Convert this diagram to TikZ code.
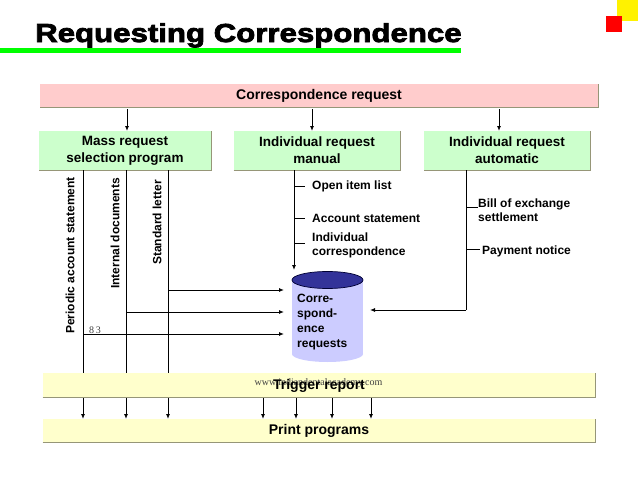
\documentclass[tikz,border=0pt]{standalone}
\usepackage{fontspec}
\setmainfont{Liberation Sans}
\newfontfamily\titlefont[FakeBold=3,FakeStretch=1.2]{Liberation Sans Bold}
\newfontfamily\wmfont{Liberation Serif}
\usetikzlibrary{arrows.meta}
\definecolor{pinkfill}{RGB}{255,204,204}
\definecolor{greenfill}{RGB}{204,255,204}
\definecolor{yellowfill}{RGB}{255,255,204}
\definecolor{cylbody}{RGB}{204,204,255}
\definecolor{cyltop}{RGB}{51,51,153}
\definecolor{titlegreen}{RGB}{0,255,0}
\definecolor{edgegray}{RGB}{150,150,120}
\begin{document}
\begin{tikzpicture}[x=1pt,y=-1pt,
  barbox/.style={inner sep=0pt, outer sep=0pt, font=\bfseries\fontsize{14}{17}\selectfont, align=center, minimum height=23pt},
  reqbox/.style={inner sep=0pt, outer sep=0pt, fill=greenfill, font=\bfseries\fontsize{13.5}{17}\selectfont, align=center, minimum height=39pt},
  conn/.style={line width=0.9pt, -{Latex[length=5pt,width=4pt]}},
  plainline/.style={line width=0.9pt},
  lbl/.style={font=\bfseries\fontsize{12}{14}\selectfont, inner sep=0pt, align=left},
  vlbl/.style={font=\bfseries\fontsize{12}{14}\selectfont, inner sep=0pt, rotate=90, anchor=east},
  wm/.style={font=\wmfont\fontsize{10}{12}\selectfont, text=black!75, inner sep=0pt},
  edge/.style={draw=edgegray, line width=0.8pt},
]
\useasboundingbox (0,0) rectangle (638,479);
\fill[white] (0,0) rectangle (638,479);

% decoration squares
\fill[yellow] (617,0) rectangle (638,21);
\fill[red] (606,16) rectangle (622,32);

% title
\fill[titlegreen] (0,47.5) rectangle (461,52.5);
\node[anchor=base west, inner sep=0pt, font=\titlefont\fontsize{26}{30}\selectfont] (title) at (35,42) {Requesting Correspondence};

% top bar
\node[barbox, fill=pinkfill, minimum width=558pt] (corr) at (319,95.5) {Correspondence request};
\draw[edge] (corr.south west) -- (corr.south east) -- (corr.north east);

% request boxes
\node[reqbox, minimum width=172pt] (mass) at (125,150.5) {Mass request\\selection program};
\node[reqbox, minimum width=167pt] (manual) at (317,150.5) {Individual request\\manual};
\node[reqbox, minimum width=166pt] (auto) at (507,150.5) {Individual request\\automatic};
\foreach \n in {mass,manual,auto}{\draw[edge] (\n.south west) -- (\n.south east) -- (\n.north east);}

\coordinate (a1) at (127,0);
\coordinate (a2) at (312,0);
\coordinate (a3) at (499,0);
\draw[conn] (a1 |- corr.south) ++(0,2) -- (a1 |- mass.north);
\draw[conn] (a2 |- corr.south) ++(0,2) -- (a2 |- manual.north);
\draw[conn] (a3 |- corr.south) ++(0,2) -- (a3 |- auto.north);

% bottom bars (print first, trigger later to cover lines)
\node[barbox, fill=yellowfill, minimum width=553pt] (print) at (319,430.5) {Print programs};
\draw[edge] (print.south west) -- (print.south east) -- (print.north east);

% cylinder node (invisible frame)
\node[minimum width=86pt, minimum height=92pt, inner sep=0pt, outer sep=0pt] (db) at (327,316) {};
\fill[cylbody] (327.5,354) ellipse [x radius=35.5, y radius=8];
\fill[cylbody] (292,280) rectangle (363,354);
\filldraw[fill=cyltop, draw=black!80!blue, line width=0.7pt] (327.5,280) ellipse [x radius=35.5, y radius=8.5];
\node[lbl, anchor=north west, font=\bfseries\fontsize{12}{15}\selectfont] (dbtext) at (297,294) {Corre-\\spond-\\ence\\requests};

% mass request lines
\coordinate (m1) at (83,0);
\coordinate (m2) at (126,0);
\coordinate (m3) at (168,0);
\draw[conn] (m1 |- mass.south) -- (m1 |- print.north);
\draw[conn] (m2 |- mass.south) -- (m2 |- print.north);
\draw[conn] (m3 |- mass.south) -- (m3 |- print.north);
\node[vlbl] (pas) at (70,177) {Periodic account statement};
\node[vlbl] (intd) at (115,178) {Internal documents};
\node[vlbl] (stdl) at (157,180) {Standard letter};

\coordinate (h1) at (0,290);
\coordinate (h2) at (0,312);
\coordinate (h3) at (0,334);
\draw[conn] (m3 |- h1) -- (db.west |- h1);
\draw[conn] (m2 |- h2) -- (db.west |- h2);
\draw[conn] (m1 |- h3) -- (db.west |- h3);
\node[wm, anchor=base west] (num) at (89,333) {8\,3};

% manual request
\coordinate (v2) at (294,0);
\draw[conn] (v2 |- manual.south) -- (v2 |- db.north);
\coordinate (t1) at (305,186);
\coordinate (t2) at (305,218);
\coordinate (t3) at (305,243);
\draw[plainline] (v2 |- t1) -- (t1);
\draw[plainline] (v2 |- t2) -- (t2);
\draw[plainline] (v2 |- t3) -- (t3);
\node[lbl, anchor=west] (oil) at (312,186) {Open item list};
\node[lbl, anchor=west] (acs) at (312,218) {Account statement};
\node[lbl, anchor=west] (indc) at (312,245) {Individual\\correspondence};

% automatic request
\coordinate (v3) at (466,0);
\coordinate (corner) at (466,310);
\draw[plainline] (v3 |- auto.south) -- (corner);
\draw[conn] (corner) -- (db.east |- corner);
\coordinate (u1) at (478,207);
\coordinate (u2) at (480,249);
\draw[plainline] (v3 |- u1) -- (u1);
\draw[plainline] (v3 |- u2) -- (u2);
\node[lbl, anchor=west] (boe) at (478,210) {Bill of exchange\\settlement};
\node[lbl, anchor=west] (pn) at (482,251) {Payment notice};

% trigger bar (covers the passing lines)
\node[barbox, fill=yellowfill, minimum width=553pt, minimum height=24pt] (trig) at (319,385) {};
\draw[edge] (trig.south west) -- (trig.south east) -- (trig.north east);
\node[wm] (wmark) at (318.5,383) {www.indiandentalacademy.com};
\node[barbox, minimum height=0pt] (triglbl) at (319,386) {Trigger report};

\coordinate (p1) at (263,0);
\coordinate (p2) at (296,0);
\coordinate (p3) at (332,0);
\coordinate (p4) at (371,0);
\foreach \p in {p1,p2,p3,p4}{\draw[conn] (\p |- trig.south) ++(0,1) -- (\p |- print.north);}
\end{tikzpicture}
\end{document}
